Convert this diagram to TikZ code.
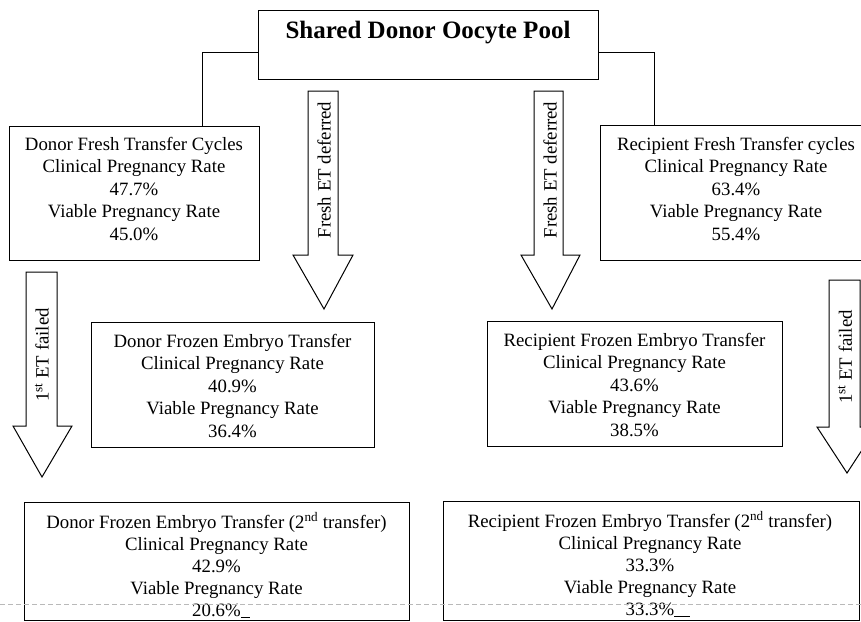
\documentclass[tikz,border=0pt]{standalone}
\usepackage{fontspec}
\setmainfont{Liberation Serif}
\begin{document}
\begin{tikzpicture}[x=1pt,y=-1pt,
  box/.style={draw,line width=1pt,inner sep=0pt,align=center},
  txt/.style={inner sep=0pt,align=center,font=\fontsize{18.8}{22.5}\selectfont},
  barrow/.style={draw,line width=1pt,fill=white,line join=miter},
  vlabel/.style={rotate=90,inner sep=0pt,font=\fontsize{18.8}{22}\selectfont},
  conn/.style={draw,line width=1pt}]
\clip (0,0) rectangle (861,621);
\fill[white] (0,0) rectangle (861,621);
% top box
\node[box,minimum width=340pt,minimum height=69pt] (top) at (428,44.5) {};
\node[inner sep=0pt,font=\fontsize{25}{30}\selectfont\bfseries] (title) at (428,33) {Shared Donor Oocyte Pool};
% fresh boxes
\node[box,minimum width=250pt,minimum height=134pt] (dfreshbox) at (134,193) {};
\node[txt] (dfresh) at (134,189) {Donor Fresh Transfer Cycles\\Clinical Pregnancy Rate\\47.7\%\\Viable Pregnancy Rate\\45.0\%};
\node[box,minimum width=270pt,minimum height=135pt] (rfreshbox) at (735,192.5) {};
\node[txt] (rfresh) at (736,189) {Recipient Fresh Transfer cycles\\Clinical Pregnancy Rate\\63.4\%\\Viable Pregnancy Rate\\55.4\%};
% frozen boxes
\node[box,minimum width=283pt,minimum height=125pt] (dfrozbox) at (232.5,384.5) {};
\node[txt] (dfroz) at (232.5,386) {Donor Frozen Embryo Transfer\\Clinical Pregnancy Rate\\40.9\%\\Viable Pregnancy Rate\\36.4\%};
\node[box,minimum width=295pt,minimum height=125pt] (rfrozbox) at (634.5,383.5) {};
\node[txt] (rfroz) at (634.5,385) {Recipient Frozen Embryo Transfer\\Clinical Pregnancy Rate\\43.6\%\\Viable Pregnancy Rate\\38.5\%};
% second transfer boxes
\node[box,minimum width=385pt,minimum height=118pt] (d2box) at (216.5,561) {};
\node[txt,font=\fontsize{18.8}{22}\selectfont] (d2) at (216.5,565) {Donor Frozen Embryo Transfer (2\textsuperscript{nd} transfer)\\Clinical Pregnancy Rate\\42.9\%\\Viable Pregnancy Rate\\20.6\%\rlap{\rule[-1pt]{9pt}{0.7pt}}};
\node[box,minimum width=416pt,minimum height=119pt] (r2box) at (651,560.5) {};
\node[txt,font=\fontsize{18.8}{22}\selectfont] (r2) at (650,564) {Recipient Frozen Embryo Transfer (2\textsuperscript{nd} transfer)\\Clinical Pregnancy Rate\\33.3\%\\Viable Pregnancy Rate\\33.3\%\rlap{\rule[-1pt]{16pt}{0.7pt}}};
% connectors from top box
\draw[conn] ([yshift=-7.5pt]top.west) -| ([xshift=68pt]dfreshbox.north);
\draw[conn] ([yshift=-7.5pt]top.east) -| ([xshift=-81pt]rfreshbox.north);
% block arrows
\draw[barrow] (308,91) -- (338,91) -- (338,255) -- (353,255) -- (324,309) -- (293,255) -- (308,255) -- cycle;
\node[vlabel] (fetl) at (324,170) {Fresh ET deferred};
\draw[barrow] (534,91) -- (563,91) -- (563,255) -- (580,255) -- (552,309) -- (521,255) -- (534,255) -- cycle;
\node[vlabel] (fetr) at (550,170) {Fresh ET deferred};
\draw[barrow] (26,272) -- (57,272) -- (57,426) -- (72,426) -- (42,477) -- (13,426) -- (26,426) -- cycle;
\node[vlabel] (etfl) at (42,355) {1\textsuperscript{st} ET failed};
\draw[barrow] (829,280) -- (860,280) -- (860,427) -- (877,427) -- (847,473) -- (817,427) -- (829,427) -- cycle;
\node[vlabel] (etfr) at (845,357) {1\textsuperscript{st} ET failed};
% scan artefact line
\draw[gray!55,line width=0.6pt,dash pattern=on 5pt off 3pt] (0,604) -- (861,604);
\end{tikzpicture}
\end{document}
